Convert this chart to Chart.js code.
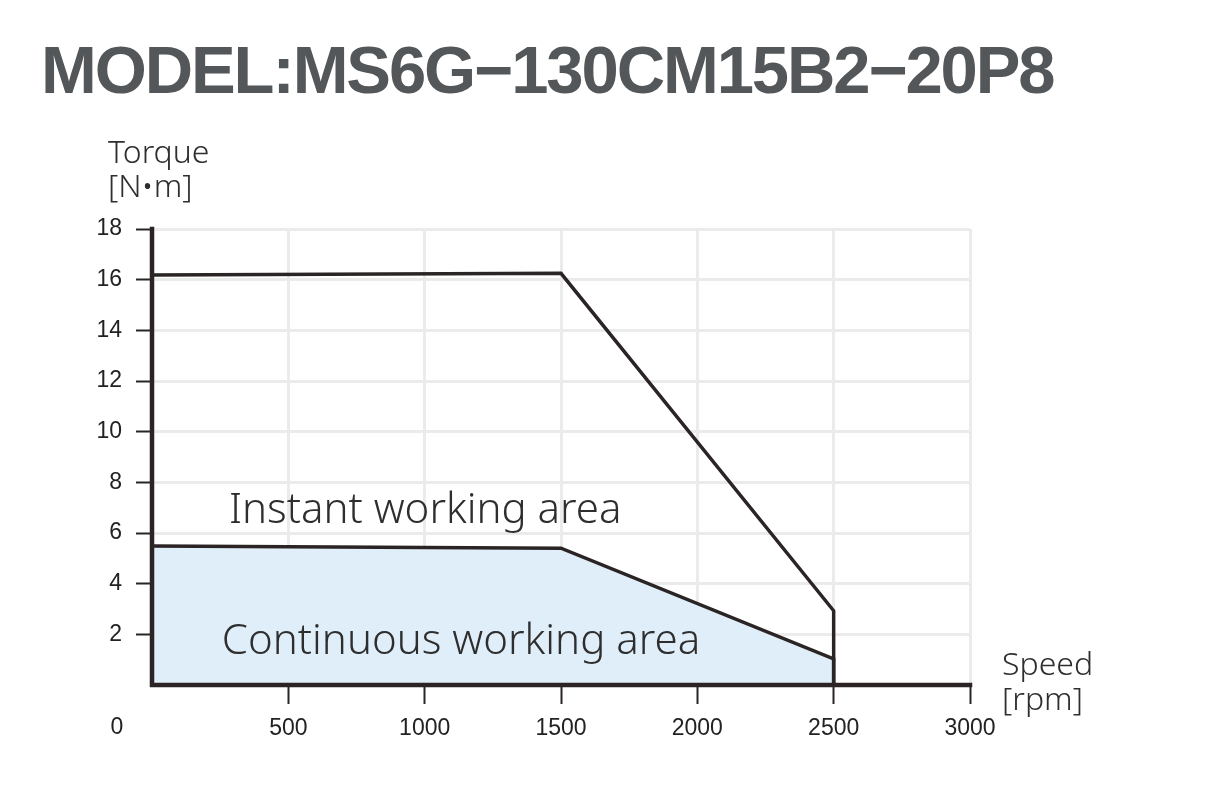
<!DOCTYPE html>
<html>
<head>
<meta charset="utf-8">
<title>MS6G-130CM15B2-20P8 torque curve</title>
<script src="https://cdn.jsdelivr.net/npm/chart.js@4.4.0/dist/chart.umd.min.js"></script>
<style>
  html, body { margin: 0; padding: 0; background: #fff; width: 1208px; height: 787px; overflow: hidden; }
  #wrap { position: absolute; left: 0; top: 0; width: 1208px; height: 787px; }
  #title {
    position: absolute; left: 41px; top: 31px;
    font: bold 67px "Liberation Sans", Arial, sans-serif;
    letter-spacing: -2.1px;
    color: #545759; white-space: nowrap;
  }
</style>
</head>
<body>
<div id="wrap"><canvas id="chart"></canvas></div>
<div id="title">MODEL:MS6G−130CM15B2−20P8</div>

<script>
// speed points [rpm] shared by both curves
const speed = [0, 1500, 2500, 2500];
// torque [N·m]
const instantTorque = [16.18, 16.25, 2.93, 0];
const continuousTorque = [5.49, 5.4, 1.03, 0];

const xTicks = [0, 500, 1000, 1500, 2000, 2500, 3000];
const yTicks = [0, 2, 4, 6, 8, 10, 12, 14, 16, 18];

const INK = '#2b2424';
const GRID = '#ebebeb';
const tickFont = { family: '"Liberation Sans", Arial, sans-serif', size: 23 };
const textFont = '"Noto Sans", "Open Sans", sans-serif';

const toPoints = (ys) => speed.map((x, i) => ({ x: x, y: ys[i] }));

// hide grid/tick at zero (axis line sits there)
const notZero = (on) => (ctx) => (ctx.tick && ctx.tick.value === 0 ? 'rgba(0,0,0,0)' : on);

// the fill eats half of the axis border, so put the axes back on top
const axesPlugin = {
  id: 'axesOnTop',
  afterDatasetsDraw(chart) {
    const { ctx, chartArea: a } = chart;
    ctx.save();
    ctx.strokeStyle = INK;
    ctx.lineWidth = 4.5;
    ctx.lineCap = 'square';
    ctx.beginPath();
    ctx.moveTo(a.left, a.top);
    ctx.lineTo(a.left, a.bottom);
    ctx.lineTo(a.right, a.bottom);
    ctx.stroke();
    ctx.restore();
  }
};

// extra texts: axis titles, area labels, lonely origin "0"
const labelsPlugin = {
  id: 'labels',
  afterDraw(chart) {
    const { ctx, chartArea: a, scales } = chart;
    ctx.save();
    ctx.fillStyle = '#2e2e2e';
    ctx.textBaseline = 'middle';

    ctx.font = '300 32px ' + textFont;
    ctx.textAlign = 'left';
    ctx.fillText('Torque', a.left - 44, a.top - 75);
    ctx.fillText('[N•m]', a.left - 44, a.top - 41);
    ctx.fillText('Speed', a.right + 32, a.bottom - 19);
    ctx.fillText('[rpm]', a.right + 32, a.bottom + 16);

    ctx.font = '23px "Liberation Sans", Arial, sans-serif';
    ctx.fillStyle = '#222';
    ctx.textAlign = 'center';
    ctx.fillText('0', a.left - 35, a.bottom + 43);

    ctx.font = '300 42px ' + textFont;
    ctx.fillStyle = '#2e2e2e';
    ctx.textAlign = 'left';
    ctx.textBaseline = 'alphabetic';
    ctx.fillText('Instant working area', scales.x.getPixelForValue(282), scales.y.getPixelForValue(6.4));
    ctx.fillText('Continuous working area', scales.x.getPixelForValue(256), scales.y.getPixelForValue(1.22));
    ctx.restore();
  }
};

new Chart(document.getElementById('chart'), {
  type: 'line',
  data: {
    datasets: [
      {
        label: 'Instant',
        data: toPoints(instantTorque),
        borderColor: INK,
        borderWidth: 3.5,
        borderJoinStyle: 'miter',
        pointRadius: 0,
        fill: false
      },
      {
        label: 'Continuous',
        data: toPoints(continuousTorque),
        borderColor: INK,
        borderWidth: 3.5,
        borderJoinStyle: 'miter',
        pointRadius: 0,
        fill: 'origin',
        backgroundColor: '#e0eef9'
      }
    ]
  },
  options: {
    responsive: true,
    maintainAspectRatio: false,
    animation: false,
    layout: { padding: { left: 90, top: 229, right: 238, bottom: 42 } },
    plugins: {
      legend: { display: false },
      tooltip: { enabled: false }
    },
    scales: {
      x: {
        type: 'linear',
        min: 0,
        max: 3000,
        afterBuildTicks: (s) => { s.ticks = xTicks.map(v => ({ value: v })); },
        afterFit: (s) => { s.height = 60; },
        grid: {
          color: notZero(GRID),
          lineWidth: 3,
          tickLength: 19,
          tickColor: notZero(INK),
          tickWidth: 2
        },
        border: { color: INK, width: 4 },
        ticks: {
          font: tickFont,
          color: '#222',
          padding: 11,
          maxRotation: 0,
          autoSkip: false,
          callback: (v) => (v === 0 ? '' : v)
        }
      },
      y: {
        min: 0,
        max: 18,
        afterBuildTicks: (s) => { s.ticks = yTicks.map(v => ({ value: v })); },
        afterFit: (s) => { s.width = 62; },
        grid: {
          color: notZero(GRID),
          lineWidth: 3,
          tickLength: 16,
          tickColor: notZero(INK),
          tickWidth: 2
        },
        border: { color: INK, width: 4 },
        ticks: {
          font: tickFont,
          color: '#222',
          padding: 14,
          autoSkip: false,
          callback: (v) => (v === 0 ? '' : v)
        }
      }
    }
  },
  plugins: [axesPlugin, labelsPlugin]
});
</script>
</body>
</html>
